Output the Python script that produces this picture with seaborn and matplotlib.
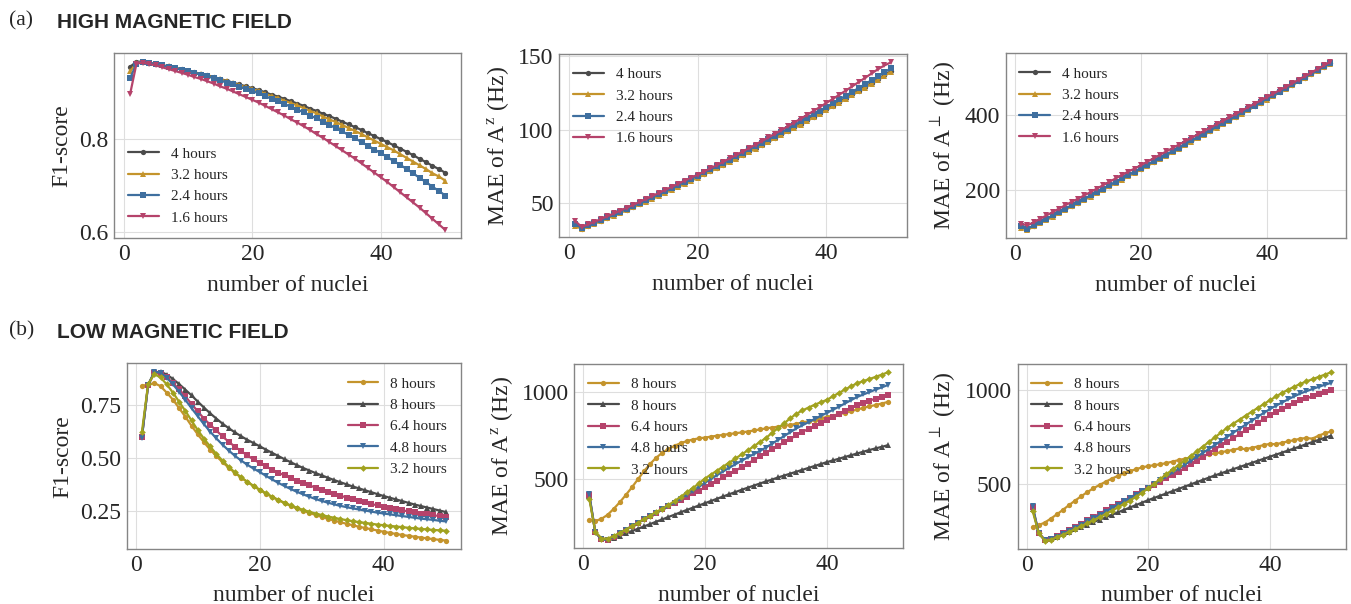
import numpy as np
import matplotlib
matplotlib.use("Agg")
import matplotlib.pyplot as plt
import seaborn as sns

# x axis: number of nuclei in the cluster
nuclei = np.arange(1, 51)

# ---- (a) high magnetic field ----
hours_high = ["4 hours", "3.2 hours", "2.4 hours", "1.6 hours"]

f1_high_4h = [0.955, 0.966, 0.966, 0.964, 0.961, 0.958, 0.956, 0.953, 0.950, 0.947,
              0.943, 0.940, 0.937, 0.933, 0.929, 0.925, 0.921, 0.917, 0.913, 0.909,
              0.905, 0.900, 0.895, 0.891, 0.886, 0.881, 0.876, 0.871, 0.865, 0.860,
              0.854, 0.849, 0.843, 0.837, 0.831, 0.825, 0.819, 0.812, 0.806, 0.799,
              0.793, 0.786, 0.779, 0.772, 0.765, 0.757, 0.750, 0.742, 0.735, 0.727]
f1_high_32h = [0.945, 0.963, 0.966, 0.964, 0.961, 0.958, 0.956, 0.953, 0.949, 0.946,
               0.942, 0.939, 0.936, 0.932, 0.928, 0.924, 0.920, 0.915, 0.911, 0.907,
               0.903, 0.897, 0.892, 0.888, 0.882, 0.877, 0.872, 0.866, 0.860, 0.855,
               0.848, 0.842, 0.836, 0.830, 0.823, 0.817, 0.810, 0.803, 0.796, 0.789,
               0.782, 0.775, 0.767, 0.759, 0.751, 0.743, 0.735, 0.726, 0.719, 0.710]
f1_high_24h = [0.930, 0.962, 0.966, 0.964, 0.961, 0.958, 0.955, 0.952, 0.949, 0.946,
               0.942, 0.938, 0.935, 0.930, 0.926, 0.921, 0.917, 0.912, 0.907, 0.903,
               0.898, 0.892, 0.886, 0.881, 0.875, 0.869, 0.863, 0.857, 0.850, 0.844,
               0.837, 0.830, 0.823, 0.816, 0.808, 0.801, 0.793, 0.785, 0.777, 0.769,
               0.761, 0.752, 0.744, 0.735, 0.726, 0.716, 0.707, 0.697, 0.688, 0.678]
f1_high_16h = [0.896, 0.962, 0.964, 0.961, 0.958, 0.954, 0.950, 0.946, 0.942, 0.938,
               0.933, 0.929, 0.924, 0.919, 0.913, 0.908, 0.902, 0.896, 0.890, 0.884,
               0.878, 0.871, 0.864, 0.857, 0.850, 0.842, 0.835, 0.827, 0.819, 0.810,
               0.802, 0.793, 0.784, 0.775, 0.766, 0.757, 0.747, 0.737, 0.727, 0.717,
               0.707, 0.696, 0.685, 0.674, 0.663, 0.652, 0.640, 0.628, 0.616, 0.604]

maez_high_4h = [35.0, 32.5, 34.3, 36.1, 37.9, 39.8, 41.6, 43.5, 45.4, 47.3,
                49.3, 51.2, 53.2, 55.2, 57.2, 59.3, 61.3, 63.4, 65.5, 67.6,
                69.7, 71.9, 74.1, 76.2, 78.5, 80.7, 82.9, 85.2, 87.5, 89.8,
                92.1, 94.5, 96.8, 99.2, 101.6, 104.0, 106.5, 108.9, 111.4, 113.9,
                116.4, 119.0, 121.5, 124.1, 126.7, 129.3, 132.0, 134.6, 137.3, 140.0]
maez_high_32h = [34.5, 32.2, 34.0, 35.8, 37.6, 39.5, 41.3, 43.2, 45.1, 47.0,
                 49.0, 50.9, 52.9, 54.9, 56.9, 59.0, 61.0, 63.1, 65.2, 67.3,
                 69.4, 71.5, 73.7, 75.8, 78.1, 80.3, 82.5, 84.8, 87.1, 89.4,
                 91.7, 94.0, 96.4, 98.8, 101.1, 103.5, 106.0, 108.4, 110.9, 113.4,
                 115.9, 118.4, 121.0, 123.6, 126.2, 128.8, 131.4, 134.1, 136.8, 139.4]
maez_high_24h = [35.8, 33.0, 34.8, 36.6, 38.4, 40.3, 42.2, 44.1, 46.0, 48.0,
                 50.0, 51.9, 54.0, 56.0, 58.1, 60.1, 62.2, 64.3, 66.5, 68.6,
                 70.8, 72.9, 75.1, 77.4, 79.6, 81.9, 84.1, 86.5, 88.8, 91.1,
                 93.5, 95.8, 98.2, 100.7, 103.1, 105.6, 108.0, 110.6, 113.0, 115.5,
                 118.1, 120.7, 123.2, 125.8, 128.5, 131.1, 133.8, 136.5, 139.2, 142.0]
maez_high_16h = [37.8, 33.6, 35.3, 37.1, 39.0, 40.9, 42.8, 44.7, 46.7, 48.7,
                 50.7, 52.7, 54.8, 56.8, 58.9, 61.0, 63.1, 65.2, 67.3, 69.2,
                 71.4, 73.6, 75.9, 78.1, 80.4, 82.7, 85.1, 87.4, 89.8, 92.3,
                 94.7, 97.2, 99.7, 102.3, 104.9, 107.5, 110.1, 112.8, 115.5, 118.3,
                 121.0, 123.9, 126.7, 129.6, 132.5, 135.4, 138.4, 141.3, 143.9, 146.0]

maep_high_4h = [104, 98, 107, 116, 124, 133, 142, 151, 160, 168,
                177, 186, 195, 204, 213, 222, 231, 240, 249, 258,
                267, 276, 285, 294, 303, 312, 322, 331, 340, 349,
                358, 368, 377, 386, 395, 405, 414, 423, 432, 442,
                451, 460, 470, 479, 489, 498, 508, 517, 527, 536]
maep_high_32h = [102, 96, 105, 114, 122, 131, 140, 149, 158, 166,
                 175, 184, 193, 202, 211, 220, 229, 238, 247, 256,
                 265, 274, 283, 292, 301, 310, 320, 329, 338, 347,
                 356, 366, 375, 384, 394, 403, 412, 422, 431, 440,
                 450, 459, 469, 478, 488, 497, 507, 516, 526, 535]
maep_high_24h = [106, 99, 108, 117, 125, 134, 143, 152, 161, 169,
                 178, 187, 196, 205, 214, 223, 232, 241, 250, 259,
                 268, 277, 286, 295, 304, 313, 323, 332, 341, 350,
                 359, 369, 378, 387, 396, 406, 415, 424, 433, 443,
                 452, 461, 471, 480, 490, 499, 509, 518, 528, 537]
maep_high_16h = [112, 108, 116, 125, 134, 143, 152, 161, 170, 178,
                 187, 196, 205, 214, 223, 232, 241, 250, 258, 267,
                 276, 285, 294, 303, 312, 321, 330, 339, 348, 357,
                 366, 375, 384, 393, 402, 411, 420, 429, 438, 447,
                 456, 465, 474, 483, 493, 502, 511, 521, 530, 540]

# ---- (b) low magnetic field ----
hours_low = ["8 hours", "8 hours", "6.4 hours", "4.8 hours", "3.2 hours"]

f1_low_8h_a = [0.840, 0.845, 0.853, 0.838, 0.808, 0.775, 0.735, 0.695, 0.652, 0.612,
               0.575, 0.540, 0.510, 0.481, 0.455, 0.431, 0.409, 0.388, 0.369, 0.351,
               0.334, 0.318, 0.303, 0.289, 0.276, 0.264, 0.253, 0.243, 0.233, 0.224,
               0.215, 0.207, 0.199, 0.192, 0.185, 0.178, 0.172, 0.166, 0.160, 0.154,
               0.149, 0.144, 0.139, 0.135, 0.131, 0.127, 0.123, 0.120, 0.116, 0.113]
f1_low_8h_b = [0.600, 0.845, 0.903, 0.906, 0.893, 0.872, 0.848, 0.822, 0.795, 0.766,
               0.738, 0.711, 0.686, 0.662, 0.641, 0.621, 0.603, 0.586, 0.571, 0.556,
               0.540, 0.525, 0.510, 0.495, 0.481, 0.467, 0.454, 0.442, 0.430, 0.419,
               0.408, 0.397, 0.387, 0.377, 0.367, 0.358, 0.349, 0.340, 0.331, 0.322,
               0.314, 0.306, 0.298, 0.290, 0.282, 0.275, 0.268, 0.261, 0.254, 0.247]
f1_low_64h = [0.600, 0.843, 0.900, 0.900, 0.880, 0.853, 0.823, 0.790, 0.755, 0.720,
              0.686, 0.657, 0.630, 0.602, 0.577, 0.554, 0.533, 0.513, 0.494, 0.477,
              0.461, 0.446, 0.432, 0.419, 0.406, 0.394, 0.383, 0.372, 0.362, 0.352,
              0.342, 0.333, 0.324, 0.315, 0.307, 0.299, 0.292, 0.285, 0.278, 0.272,
              0.266, 0.260, 0.255, 0.250, 0.245, 0.240, 0.236, 0.232, 0.228, 0.224]
f1_low_48h = [0.597, 0.843, 0.905, 0.902, 0.878, 0.847, 0.812, 0.774, 0.735, 0.697,
              0.660, 0.625, 0.593, 0.563, 0.536, 0.511, 0.489, 0.469, 0.451, 0.435,
              0.417, 0.400, 0.384, 0.369, 0.355, 0.342, 0.330, 0.319, 0.308, 0.299,
              0.291, 0.283, 0.276, 0.270, 0.264, 0.259, 0.254, 0.249, 0.244, 0.240,
              0.236, 0.232, 0.228, 0.224, 0.220, 0.216, 0.213, 0.210, 0.206, 0.203]
f1_low_32h = [0.623, 0.847, 0.895, 0.879, 0.847, 0.808, 0.765, 0.722, 0.677, 0.632,
              0.592, 0.555, 0.520, 0.488, 0.459, 0.433, 0.410, 0.389, 0.370, 0.352,
              0.335, 0.319, 0.304, 0.290, 0.278, 0.267, 0.257, 0.248, 0.240, 0.233,
              0.226, 0.220, 0.214, 0.209, 0.204, 0.200, 0.196, 0.192, 0.188, 0.185,
              0.182, 0.179, 0.176, 0.173, 0.170, 0.168, 0.165, 0.163, 0.161, 0.159]

maez_low_8h_a = [262, 256, 268, 291, 325, 363, 405, 449, 496, 542,
                 584, 620, 648, 670, 688, 703, 715, 724, 731, 735,
                 741, 746, 751, 756, 760, 765, 770, 776, 782, 788,
                 793, 798, 803, 808, 815, 822, 829, 836, 845, 854,
                 862, 870, 878, 887, 897, 906, 915, 922, 931, 940]
maez_low_8h_b = [400, 190, 155, 148, 158, 171, 184, 198, 211, 225,
                 238, 252, 265, 279, 292, 306, 319, 332, 345, 358,
                 371, 384, 397, 410, 422, 435, 447, 459, 471, 483,
                 494, 506, 517, 528, 539, 550, 561, 572, 583, 594,
                 604, 614, 624, 634, 644, 654, 664, 673, 682, 691]
maez_low_64h = [405, 190, 150, 147, 164, 185, 205, 225, 245, 265,
                284, 303, 322, 341, 360, 378, 396, 414, 431, 449,
                468, 487, 506, 525, 545, 565, 585, 606, 627, 648,
                668, 688, 707, 727, 750, 768, 785, 802, 818, 835,
                853, 870, 887, 905, 922, 936, 948, 959, 970, 980]
maez_low_48h = [410, 192, 150, 148, 165, 186, 206, 226, 246, 266,
                285, 304, 323, 342, 362, 384, 406, 428, 452, 476,
                498, 520, 541, 562, 582, 602, 621, 640, 658, 678,
                700, 722, 744, 766, 788, 806, 824, 842, 860, 877,
                895, 913, 932, 951, 969, 983, 997, 1011, 1024, 1037]
maez_low_32h = [385, 195, 155, 155, 168, 188, 206, 226, 246, 267,
                287, 307, 327, 348, 370, 395, 420, 445, 472, 500,
                523, 546, 569, 592, 615, 638, 661, 685, 709, 733,
                762, 790, 818, 846, 872, 891, 908, 924, 938, 952,
                972, 992, 1012, 1030, 1048, 1060, 1072, 1084, 1097, 1110]

maep_low_8h_a = [273, 282, 296, 317, 340, 364, 389, 413, 436, 458,
                 478, 496, 513, 529, 544, 557, 569, 580, 589, 596,
                 601, 606, 612, 620, 628, 635, 641, 647, 652, 658,
                 664, 670, 676, 683, 690, 686, 693, 700, 708, 714,
                 712, 720, 728, 734, 742, 745, 742, 758, 770, 780]
maep_low_8h_b = [370, 240, 205, 207, 220, 233, 246, 259, 272, 285,
                 298, 311, 324, 337, 350, 363, 376, 389, 402, 415,
                 427, 439, 451, 463, 475, 487, 499, 511, 523, 535,
                 547, 558, 569, 580, 591, 602, 613, 624, 635, 646,
                 657, 668, 679, 690, 701, 713, 724, 735, 746, 757]
maep_low_64h = [380, 240, 203, 207, 222, 238, 254, 271, 289, 307,
                325, 343, 361, 378, 395, 412, 429, 446, 463, 480,
                497, 514, 531, 549, 567, 586, 605, 625, 645, 665,
                686, 706, 726, 746, 766, 786, 806, 826, 846, 866,
                882, 898, 914, 930, 945, 956, 967, 978, 989, 1000]
maep_low_48h = [385, 238, 202, 206, 221, 236, 252, 268, 285, 302,
                319, 336, 354, 372, 390, 408, 426, 444, 462, 481,
                500, 520, 541, 562, 583, 604, 625, 646, 667, 687,
                709, 731, 752, 774, 795, 816, 837, 858, 879, 899,
                917, 934, 951, 967, 982, 994, 1006, 1017, 1028, 1038]
maep_low_32h = [358, 240, 200, 205, 218, 232, 246, 261, 276, 292,
                308, 324, 341, 358, 376, 394, 413, 433, 455, 478,
                503, 528, 553, 578, 602, 626, 650, 675, 700, 725,
                750, 775, 800, 822, 843, 864, 885, 905, 926, 946,
                966, 985, 1002, 1018, 1033, 1046, 1058, 1070, 1082, 1094]

# styles
GRAY = "#4b4b4b"
GOLD = "#c4942c"
BLUE = "#3f6f9f"
PINK = "#b5436b"
OLIVE = "#a1a21f"

colors_high = [GRAY, GOLD, BLUE, PINK]
markers_high = ["o", "^", "s", "v"]
colors_low = [GOLD, GRAY, PINK, BLUE, OLIVE]
markers_low = ["o", "^", "s", "v", "D"]

sns.set_theme(style="whitegrid")
plt.rcParams["font.family"] = ["Liberation Serif", "DejaVu Serif"]
plt.rcParams["mathtext.fontset"] = "stix"

W, H = 1351, 604
fig = plt.figure(figsize=(W / 100, H / 100), dpi=100)


def add_ax(left, right, top, bottom):
    return fig.add_axes([left / W, 1 - bottom / H, (right - left) / W, (bottom - top) / H])


def draw_panel(ax, series, labels, colors, markers, ylabel, yticks, yticklabels,
               legend_loc):
    for vals, lab, col, mk in zip(series, labels, colors, markers):
        sns.lineplot(x=nuclei, y=vals, ax=ax, color=col, marker=mk, label=lab,
                     linewidth=1.6, markersize=3.8 if mk != "D" else 3.4,
                     markeredgewidth=0, markeredgecolor=col)
    ax.set_xticks([0, 20, 40])
    ax.set_yticks(yticks)
    if yticklabels is not None:
        ax.set_yticklabels(yticklabels)
    ax.tick_params(labelsize=17, length=0, pad=4)
    ax.set_xlabel("number of nuclei", fontsize=17, labelpad=7)
    ax.set_ylabel(ylabel, fontsize=17, labelpad=5)
    ax.grid(True, color="#dedede", linewidth=0.8)
    for sp in ax.spines.values():
        sp.set_color("#858585")
        sp.set_linewidth(1.0)
    ax.legend(loc=legend_loc, frameon=False, fontsize=11, handlelength=2.0)


ylab_f1 = "F1-score"
ylab_z = r"MAE of A$^{\mathrm{z}}$ (Hz)"
ylab_p = r"MAE of A$^{\perp}$ (Hz)"

# top row
ax = add_ax(114.3, 461, 53.3, 238.3)
draw_panel(ax, [f1_high_4h, f1_high_32h, f1_high_24h, f1_high_16h], hours_high,
           colors_high, markers_high, ylab_f1, [0.6, 0.8], None, "lower left")
ax = add_ax(559.3, 906.7, 54, 237.3)
draw_panel(ax, [maez_high_4h, maez_high_32h, maez_high_24h, maez_high_16h], hours_high,
           colors_high, markers_high, ylab_z, [50, 100, 150], None, "upper left")
ax = add_ax(1005.7, 1345.7, 53.3, 238.3)
draw_panel(ax, [maep_high_4h, maep_high_32h, maep_high_24h, maep_high_16h], hours_high,
           colors_high, markers_high, ylab_p, [200, 400], None, "upper left")

# bottom row
ax = add_ax(126.7, 461, 363.3, 549)
draw_panel(ax, [f1_low_8h_a, f1_low_8h_b, f1_low_64h, f1_low_48h, f1_low_32h], hours_low,
           colors_low, markers_low, ylab_f1, [0.25, 0.50, 0.75],
           ["0.25", "0.50", "0.75"], "upper right")
ax = add_ax(574.3, 902.7, 364, 548.3)
draw_panel(ax, [maez_low_8h_a, maez_low_8h_b, maez_low_64h, maez_low_48h, maez_low_32h],
           hours_low, colors_low, markers_low, ylab_z, [500, 1000], None, "upper left")
ax = add_ax(1017.7, 1345.7, 364, 549)
draw_panel(ax, [maep_low_8h_a, maep_low_8h_b, maep_low_64h, maep_low_48h, maep_low_32h],
           hours_low, colors_low, markers_low, ylab_p, [500, 1000], None, "upper left")

# panel headings
fig.text(9 / W, 1 - 25 / H, "(a)", fontsize=15.5, va="baseline")
fig.text(57 / W, 1 - 28.3 / H, "HIGH MAGNETIC FIELD", fontsize=15, fontweight="bold",
         family=["Liberation Sans", "DejaVu Sans"], va="baseline")
fig.text(9 / W, 1 - 335 / H, "(b)", fontsize=15.5, va="baseline")
fig.text(57 / W, 1 - 338.3 / H, "LOW MAGNETIC FIELD", fontsize=15, fontweight="bold",
         family=["Liberation Sans", "DejaVu Sans"], va="baseline")

fig.savefig("out.png", dpi=100, facecolor="white")
